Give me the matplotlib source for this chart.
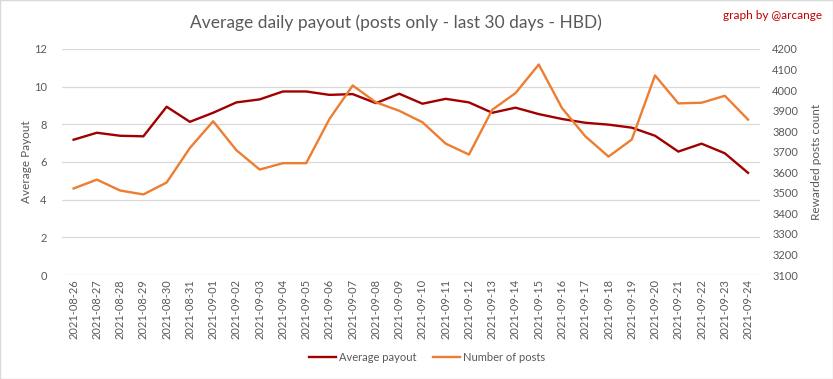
import matplotlib.pyplot as plt
from matplotlib.patches import Rectangle

# ===================== data =====================
dates = [
    "2021-08-26", "2021-08-27", "2021-08-28", "2021-08-29", "2021-08-30", "2021-08-31",
    "2021-09-01", "2021-09-02", "2021-09-03", "2021-09-04", "2021-09-05", "2021-09-06",
    "2021-09-07", "2021-09-08", "2021-09-09", "2021-09-10", "2021-09-11", "2021-09-12",
    "2021-09-13", "2021-09-14", "2021-09-15", "2021-09-16", "2021-09-17", "2021-09-18",
    "2021-09-19", "2021-09-20", "2021-09-21", "2021-09-22", "2021-09-23", "2021-09-24",
]
avg_payout = [
    7.18, 7.55, 7.39, 7.36, 8.93, 8.13, 8.61, 9.16, 9.32, 9.74,
    9.74, 9.56, 9.60, 9.12, 9.62, 9.09, 9.35, 9.16, 8.61, 8.88,
    8.54, 8.28, 8.08, 7.98, 7.82, 7.39, 6.55, 6.97, 6.46, 5.42,
]
num_posts = [
    3521, 3564, 3511, 3492, 3550, 3718, 3848, 3707, 3613, 3644,
    3644, 3859, 4022, 3940, 3899, 3843, 3739, 3686, 3904, 3985,
    4124, 3912, 3775, 3676, 3759, 4071, 3935, 3938, 3972, 3856,
]

DARK_RED = "#A00000"
ORANGE = "#ED7D31"
GREY = "#595959"
FONT = "Lato"

# ===================== plot =====================
fig = plt.figure(figsize=(8.33, 3.79), dpi=100)
ax = fig.add_axes([0.0744, 0.2744, 0.8376, 0.5966])
ax2 = ax.twinx()

x = list(range(len(dates)))
l1, = ax.plot(x, avg_payout, color=DARK_RED, linewidth=1.7, label="Average payout")
l2, = ax2.plot(x, num_posts, color=ORANGE, linewidth=1.7, label="Number of posts")

ax.set_xlim(-0.5, len(dates) - 0.5)
ax.set_ylim(0, 12)
ax.set_yticks(range(0, 13, 2))
ax2.set_ylim(3100, 4200)
ax2.set_yticks(range(3100, 4201, 100))

ax.set_xticks(x)
ax.set_xticklabels(dates, rotation=90, fontsize=7.5, color=GREY, family=FONT)
ax.grid(axis="y", color="#D9D9D9", linewidth=0.9)
ax.set_axisbelow(True)

for a in (ax, ax2):
    for s in a.spines.values():
        s.set_visible(False)
    a.tick_params(length=0, colors=GREY, labelsize=8)
ax.tick_params(axis="y", pad=11)
ax2.tick_params(axis="y", pad=9)
ax.tick_params(axis="x", pad=3)
for lab in ax.get_yticklabels() + ax2.get_yticklabels():
    lab.set_family(FONT)

ax.set_ylabel("Average Payout", fontsize=8.5, color=GREY, family=FONT, labelpad=1)
ax2.set_ylabel("Rewarded posts count", fontsize=8.5, color=GREY, family=FONT, labelpad=9)

fig.text(0.475, 0.94, "Average daily payout (posts only - last 30 days - HBD)",
         ha="center", va="center", fontsize=12.5, color=GREY, family=FONT)
fig.text(0.987, 0.96, "graph by @arcange", ha="right", va="center",
         fontsize=8.5, color="#C00000", family=FONT)

fig.legend(handles=[l1, l2], loc="center", bbox_to_anchor=(0.513, 0.057), ncol=2,
           frameon=False, prop={"family": FONT, "size": 8}, labelcolor=GREY,
           handlelength=2.4, handletextpad=0.3, columnspacing=1.5)

fig.add_artist(Rectangle((0.0006, 0.0013), 0.9988, 0.9974, transform=fig.transFigure,
                         fill=False, edgecolor="#D9D9D9", linewidth=1))

plt.savefig("out.png", dpi=100)
